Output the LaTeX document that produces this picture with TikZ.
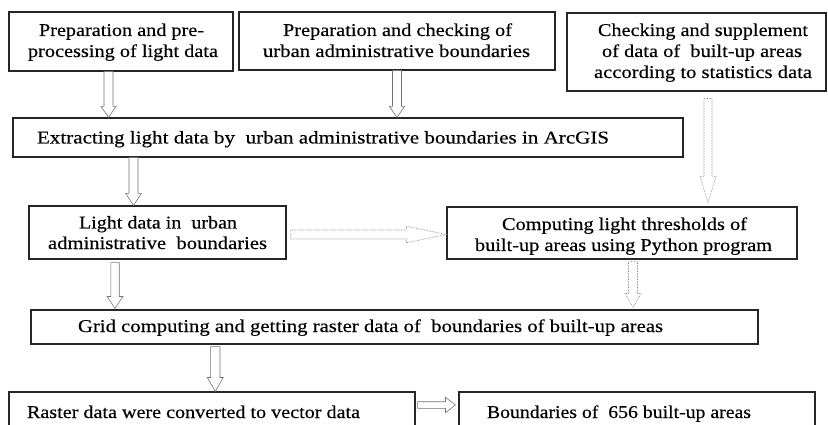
\documentclass[tikz,border=0pt]{standalone}
\usepackage{fontspec}
\setmainfont[FakeBold=0.3]{Liberation Serif}
\usetikzlibrary{calc}
\tikzset{
  box/.style={draw=black!85, line width=1.1pt, rectangle, inner sep=0pt},
  txt/.style={inner sep=0pt, font=\fontsize{18}{21}\selectfont, anchor=base},
  blk/.style={draw=black!55, line width=0.6pt, fill=white, line join=miter},
  dotblk/.style={blk, densely dotted},
}
% text line: name, x, baseline y, width, text
\newcommand\tline[5]{\node[txt] (#1) at (#2,#3) {\resizebox{#4pt}{\height}{#5}};}
% vertical block arrow: [style]{from}{to}{x}{shaft half}{head half}{head length}
\newcommand\vblk[7][blk]{\draw[#1] let \p1=(#2), \p2=(#3) in
  (#4pt-#5pt,\y1) -- (#4pt-#5pt,\y2+#7pt) -- (#4pt-#6pt,\y2+#7pt) -- (#4pt,\y2)
  -- (#4pt+#6pt,\y2+#7pt) -- (#4pt+#5pt,\y2+#7pt) -- (#4pt+#5pt,\y1) -- cycle;}
% horizontal block arrow: [style]{from}{to}{y}{shaft half}{head half}{head length}
\newcommand\hblk[7][blk]{\draw[#1] let \p1=(#2), \p2=(#3) in
  (\x1,-#4pt+#5pt) -- (\x2-#7pt,-#4pt+#5pt) -- (\x2-#7pt,-#4pt+#6pt) -- (\x2,-#4pt)
  -- (\x2-#7pt,-#4pt-#6pt) -- (\x2-#7pt,-#4pt-#5pt) -- (\x1,-#4pt-#5pt) -- cycle;}
\begin{document}
\begin{tikzpicture}[x=1pt,y=-1pt]
\useasboundingbox (0,0) rectangle (828,425);
\clip (0,0) rectangle (828,425);
\fill[white] (0,0) rectangle (828,425);

% boxes
\node[box, minimum width=224pt, minimum height=59pt] (A) at (121,41.5) {};
\node[box, minimum width=316pt, minimum height=58pt] (B) at (397,41) {};
\node[box, minimum width=259pt, minimum height=78pt] (C) at (696.5,52) {};
\node[box, minimum width=670pt, minimum height=39pt] (D) at (348,137.5) {};
\node[box, minimum width=257pt, minimum height=53pt] (E) at (157.5,232.5) {};
\node[box, minimum width=350pt, minimum height=52pt] (F) at (622,233) {};
\node[box, minimum width=727pt, minimum height=34pt] (G) at (394.5,327) {};
\node[box, minimum width=406pt, minimum height=58pt] (H) at (212,421) {};
\node[box, minimum width=356pt, minimum height=58pt] (I) at (637,421) {};

% texts
\tline{A1}{121.5}{36}{165}{Preparation and pre-}
\tline{A2}{123}{57}{190}{processing of light data}
\tline{B1}{397.5}{36}{229}{Preparation and checking of}
\tline{B2}{396.5}{57}{267}{urban administrative boundaries}
\tline{C1}{703}{36}{210}{Checking and supplement}
\tline{C2}{702}{57}{200}{of data of~ built-up areas}
\tline{C3}{703}{78}{218}{according to statistics data}
\tline{D1}{323}{143.5}{572}{Extracting light data by~ urban administrative boundaries in ArcGIS}
\tline{E1}{158}{228.5}{158}{Light data in~ urban}
\tline{E2}{157.5}{249}{219}{administrative~ boundaries}
\tline{F1}{624.5}{230}{245}{Computing light thresholds of}
\tline{F2}{623.5}{251}{297}{built-up areas using Python program}
\tline{G1}{370.5}{332}{585}{Grid computing and getting raster data of~ boundaries of built-up areas}
\tline{H1}{193.5}{418}{333}{Raster data were converted to vector data}
\tline{I1}{619}{418}{264}{Boundaries of~ 656 built-up areas}

% connectors
\vblk{A.south}{D.north}{108.5}{4.5}{7.5}{11}
\vblk{B.south}{D.north}{397}{4.5}{7.5}{11}
\vblk{D.south}{E.north}{133.5}{4.5}{7.8}{12}
\vblk[dotblk]{$(C.south)+(0,7)$}{$(F.north)+(0,-4)$}{708}{4}{8}{26}
\hblk[dotblk]{$(E.east)+(4,0)$}{F.west}{234.5}{4.5}{8.3}{40}
\vblk{$(E.south)+(0,3)$}{$(G.north)+(0,-1)$}{115}{4.2}{8}{12}
\vblk[dotblk]{$(F.south)+(0,2)$}{$(G.north)+(0,-2)$}{633}{4.5}{8}{14}
\vblk{$(G.south)+(0,2)$}{H.north}{215.3}{4.7}{8}{14}
\hblk{$(H.east)+(2,0)$}{$(I.west)+(-3,0)$}{405}{3.3}{7.7}{10}
\end{tikzpicture}
\end{document}
